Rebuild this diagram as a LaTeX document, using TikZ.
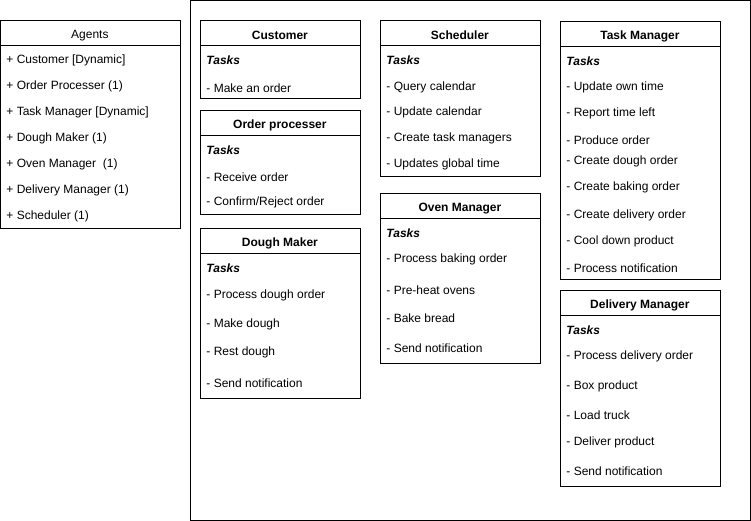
\documentclass[tikz,border=0pt]{standalone}
\usepackage{fontspec}
\setmainfont{Liberation Sans}
\usetikzlibrary{calc}
\newcommand\umlbox[7]{% name, x, y, w, h, title, title font
  \node[box, anchor=north west, minimum width=#4*0.75pt, minimum height=#5*0.75pt] (#1) at (#2,#3) {};
  \node[#7] (#1-t) at ($(#1.north west)+(#4/2,13.5)$) {#6};
  \draw[boxline] ($(#1.north west)+(0,26)$) -- ($(#1.north east)+(0,26)$);
}
\begin{document}
\begin{tikzpicture}[x=0.75pt,y=-0.75pt,
  box/.style={draw=black,line width=0.75pt,inner sep=0pt,fill=none},
  boxline/.style={draw=black,line width=0.75pt},
  ttl/.style={font=\fontsize{9}{11}\selectfont\bfseries,inner sep=0pt,yshift=-1.3pt},
  ttlplain/.style={font=\fontsize{9}{11}\selectfont,inner sep=0pt,yshift=-1.3pt},
  item/.style={font=\fontsize{9}{11}\selectfont,anchor=west,inner sep=0pt,yshift=-1.8pt,xshift=0.6pt},
  tasks/.style={font=\fontsize{9}{11}\selectfont\bfseries\itshape,anchor=west,inner sep=0pt,yshift=-1.4pt,xshift=0.6pt}]
\useasboundingbox (0.6,0.6) rectangle (751.6,521.6);
\node[box, anchor=north west, minimum width=560*0.75pt, minimum height=520*0.75pt] (frame) at (190.5,0.5) {};

% Agents
\umlbox{ag}{0.5}{20.5}{180}{208}{Agents}{ttlplain}
\foreach \yy/\txt [count=\i] in {59/{+ Customer [Dynamic]},85/{+ Order Processer (1)},111/{+ Task Manager [Dynamic]},137/{+ Dough Maker (1)},163/{+ Oven Manager\ \ (1)},189/{+ Delivery Manager (1)},215/{+ Scheduler (1)}}
  \node[item] (ag-\i) at (6,\yy) {\txt};

% Customer
\umlbox{cu}{200.5}{20.5}{160}{78}{Customer}{ttl}
\node[tasks] (cu-0) at (206,59) {Tasks};
\node[item] (cu-1) at (206,86) {- Make an order};

% Order processer
\umlbox{op}{200.5}{110.5}{160}{104}{Order processer}{ttl}
\node[tasks] (op-0) at (206,149) {Tasks};
\foreach \yy/\txt [count=\i] in {175/{- Receive order},201/{- Confirm/Reject order}}
  \node[item] (op-\i) at (206,\yy) {\txt};

% Dough Maker
\umlbox{dm}{200.5}{228.5}{160}{170}{Dough Maker}{ttl}
\node[tasks] (dm-0) at (206,267) {Tasks};
\foreach \yy/\txt [count=\i] in {294/{- Process dough order},323/{- Make dough},351/{- Rest dough},381/{- Send notification}}
  \node[item] (dm-\i) at (206,\yy) {\txt};

% Scheduler
\umlbox{sc}{380.5}{20.5}{160}{156}{Scheduler}{ttl}
\node[tasks] (sc-0) at (386,59) {Tasks};
\foreach \yy/\txt [count=\i] in {86/{- Query calendar},111/{- Update calendar},137/{- Create task managers},163/{- Updates global time}}
  \node[item] (sc-\i) at (386,\yy) {\txt};

% Oven Manager
\umlbox{om}{380.5}{193.5}{160}{170}{Oven Manager}{ttl}
\node[tasks] (om-0) at (386,232) {Tasks};
\foreach \yy/\txt [count=\i] in {258/{- Process baking order},288/{- Pre-heat ovens},316/{- Bake bread},346/{- Send notification}}
  \node[item] (om-\i) at (386,\yy) {\txt};

% Task Manager
\umlbox{tm}{560.5}{21.5}{160}{258}{Task Manager}{ttl}
\node[tasks] (tm-0) at (566,60) {Tasks};
\foreach \yy/\txt [count=\i] in {86/{- Update own time},112/{- Report time left},138/{- Produce order},160/{- Create dough order},186/{- Create baking order},214/{- Create delivery order},240/{- Cool down product},266/{- Process notification}}
  \node[item] (tm-\i) at (566,\yy) {\txt};

% Delivery Manager
\umlbox{dl}{560.5}{290.5}{160}{196}{Delivery Manager}{ttl}
\node[tasks] (dl-0) at (566,329) {Tasks};
\foreach \yy/\txt [count=\i] in {355/{- Process delivery order},385/{- Box product},413/{- Load truck},441/{- Deliver product},469/{- Send notification}}
  \node[item] (dl-\i) at (566,\yy) {\txt};
\end{tikzpicture}
\end{document}
